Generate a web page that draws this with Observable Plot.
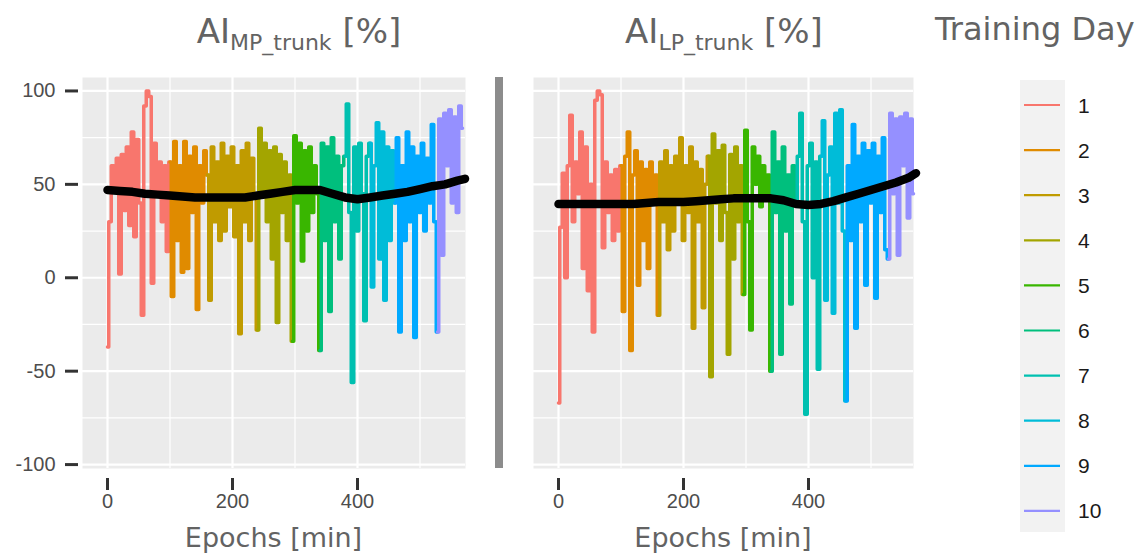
<!DOCTYPE html>
<html><head><meta charset="utf-8">
<script src="https://cdn.jsdelivr.net/npm/d3@7"></script>
<script src="https://cdn.jsdelivr.net/npm/@observablehq/plot@0.6"></script>
<style>
body{margin:0;background:#fff;}
#root{position:relative;width:1143px;height:553px;overflow:hidden;background:#fff;}
#root > svg, #root > div{position:absolute;}
</style></head><body><div id="root"></div>
<script>
// ---- data ----
const epochs = [0,4,8,12,16,20,24,28,32,36,40,44,48,52,56,60,64,68,72,76,80,84,88,92,96,
100,104,108,112,116,120,124,128,132,136,140,144,148,152,156,
160,164,168,172,176,180,184,188,192,196,200,204,208,212,216,220,224,228,232,236,
240,244,248,252,256,260,264,268,272,276,280,284,288,292,
296,300,304,308,312,316,320,324,328,332,336,
340,344,348,352,356,360,364,368,372,376,
380,384,388,392,396,400,404,408,412,416,
420,424,428,432,436,440,444,448,452,456,
460,464,468,472,476,480,484,488,492,496,500,504,508,512,516,520,524,
528,532,536,540,544,548,552,556,560,564,568];

const mpValues = [-37,30,60,48,64,2,66,36,70,28,78,22,74,40,-20,92,100,97,-3,72,45,62,30,60,14,
62,-10,73,20,60,3,73,5,65,35,70,-17,60,40,68,
55,-12,70,30,62,20,72,25,65,38,70,22,60,-30,68,30,72,20,64,45,
-28,80,45,72,30,68,10,70,-24,66,35,62,20,55,
-34,76,40,72,9,68,25,70,35,60,45,
-39,72,20,70,-18,75,30,65,10,60,
65,93,35,-56,70,25,72,45,-23,65,
72,-5,60,83,10,78,-12,70,20,68,
40,75,-29,60,20,78,30,70,-32,65,35,72,25,64,40,82,30,
-29,85,12,88,60,90,40,86,35,92,80];

const lpValues = [-67,27,56,0,60,87,30,62,45,78,5,70,-7,50,-29,95,100,98,16,62,35,55,20,58,25,
60,-18,65,78,-39,55,68,-4,62,20,58,5,62,40,55,
-20,62,30,68,15,60,25,65,40,75,20,60,35,70,-27,62,30,58,-16,50,
65,-53,77,40,68,20,71,35,-41,66,10,70,30,60,
-9,79,30,-28,70,50,65,38,60,45,55,
-50,78,35,62,-41,70,25,55,-14,60,
40,65,88,30,-73,60,72,0,62,-49,
65,84,-12,55,70,-19,88,40,90,25,
-66,60,20,82,-27,65,30,72,-4,68,40,72,-11,65,35,75,15,
10,88,45,85,12,86,60,88,32,85,45];

const smoothEpochs = [0,20,40,60,80,100,120,140,160,180,200,220,240,260,280,300,320,340,360,380,400,420,440,460,480,500,520,540,560,572];
const mpSmooth = [47,46.5,46,45,44.5,44,43.5,43,43,43,43,43,44,45,46,47,47,47,45,43,42,43,44,45,46,47.5,49,50,52,53];
const lpSmooth = [39.5,39.5,39.5,39.5,39.5,39.5,39.5,40,40.5,40.5,40.5,41,41.5,42,42.5,42.5,42.5,42.5,41.5,39.5,39,39.5,41,43,45,47,49,51,53.5,56];

const dayStarts = [0,100,160,240,296,338,380,420,460,528];
const dayLabels = ["1","2","3","4","5","6","7","8","9","10"];
const dayColors = ["#F8766D","#E08B00","#C09B00","#A3A500","#39B600","#00BF7D","#00C0B0","#00BCD8","#00A9FF","#9590FF"];

const xTicks = [0,200,400];
const xMinor = [100,300,500];
const yTicks = [-100,-50,0,50,100];
const yMinor = [-75,-25,25,75];

// ---- build ----
function dayOf(e){ let d=0; for(let i=0;i<dayStarts.length;i++) if(e>=dayStarts[i]) d=i; return d; }
function buildRows(values){
  const rows=[];
  for(let i=0;i<epochs.length;i++){
    const d=dayOf(epochs[i]);
    rows.push({epoch:epochs[i], value:values[i], day:dayLabels[d]});
    if(i+1<epochs.length && dayOf(epochs[i+1])!==d) rows.push({epoch:epochs[i+1], value:values[i+1], day:dayLabels[d]});
  }
  return rows;
}

function panel(values, smooth, opts){
  const rows = buildRows(values);
  const sm = smoothEpochs.map((e,i)=>({epoch:e, value:smooth[i]}));
  const yAxisMarks = opts.showY ? [
    Plot.axisY({ticks:yTicks, tickSize:13, dx:-4, stroke:"#333", strokeWidth:3, tickFormat:()=>"", label:null}),
    Plot.text(yTicks, {y:d=>d, text:d=>String(d), frameAnchor:"left", dx:-27, textAnchor:"end", lineAnchor:"middle",
      fontSize:20, fontFamily:"Liberation Sans", fill:"#4d4d4d"})
  ] : [];
  return Plot.plot({
    width: opts.width, height: 458,
    marginTop: 17, marginBottom: 50, marginLeft: opts.marginLeft, marginRight: 10,
    style: {background:"transparent", fontFamily:"Liberation Sans"},
    x: {domain: opts.xDomain},
    y: {domain: [-102.1, 107.2], axis: opts.showY ? undefined : null},
    color: {type:"ordinal", domain: dayLabels, range: dayColors},
    marks: [
      Plot.frame({fill:"#EBEBEB", stroke:null}),
      Plot.gridY({ticks:yMinor, stroke:"white", strokeOpacity:1, strokeWidth:1.2}),
      Plot.gridX({ticks:xMinor, stroke:"white", strokeOpacity:1, strokeWidth:1.2}),
      Plot.gridY({ticks:yTicks, stroke:"white", strokeOpacity:1, strokeWidth:2.2}),
      Plot.gridX({ticks:xTicks, stroke:"white", strokeOpacity:1, strokeWidth:2.2}),
      Plot.line(rows, {x:"epoch", y:"value", z:"day", stroke:"day", curve:"step", strokeWidth:3.5}),
      Plot.line(sm, {x:"epoch", y:"value", stroke:"black", strokeWidth:8.5, strokeLinejoin:"round"}),
      Plot.axisX({ticks:xTicks, tickSize:12, dy:10, stroke:"#333", strokeWidth:3, tickFormat:()=>"", label:null}),
      Plot.text(xTicks, {x:d=>d, text:d=>String(d), frameAnchor:"bottom", dy:33, lineAnchor:"middle",
        fontSize:20, fontFamily:"Liberation Sans", fill:"#4d4d4d"}),
      ...yAxisMarks
    ]
  });
}

const root = document.getElementById("root");

const left = panel(mpValues, mpSmooth, {width:475, marginLeft:82, xDomain:[-40,572.8], showY:true});
left.style.left = "0px"; left.style.top = "60px";
root.appendChild(left);

const right = panel(lpValues, lpSmooth, {width:423, marginLeft:33, xDomain:[-40,568], showY:false});
right.style.left = "500px"; right.style.top = "60px";
root.appendChild(right);

const bar = document.createElement("div");
Object.assign(bar.style, {left:"495px", top:"77px", width:"8px", height:"391px", background:"#8C8C8C"});
root.appendChild(bar);

// overlay: titles, axis titles, legend
const svg = d3.select(root).append("svg").attr("width",1143).attr("height",553)
  .style("left","0px").style("top","0px").style("pointer-events","none");

function title(x, sub){
  const t = svg.append("text").attr("x",x).attr("y",43).attr("text-anchor","middle")
    .attr("font-family","DejaVu Sans").attr("font-size",34).attr("fill","#636363");
  t.append("tspan").text("AI");
  t.append("tspan").attr("font-size",22).attr("dy",7).text(sub);
  t.append("tspan").attr("dy",-7).text(" [%]");
}
title(299, "MP_trunk");
title(724, "LP_trunk");

[[273.5,"Epochs [min]"],[723,"Epochs [min]"]].forEach(([x,s])=>{
  svg.append("text").attr("x",x).attr("y",547).attr("text-anchor","middle")
    .attr("font-family","DejaVu Sans").attr("font-size",27).attr("fill","#636363").text(s);
});

svg.append("text").attr("x",935).attr("y",40).attr("font-family","DejaVu Sans")
  .attr("font-size",32).attr("fill","#636363").text("Training Day");

svg.append("rect").attr("x",1020).attr("y",80).attr("width",45).attr("height",452).attr("fill","#F2F2F2");
dayLabels.forEach((lab,i)=>{
  const y = 105 + i*45.1;
  svg.append("line").attr("x1",1024).attr("x2",1060).attr("y1",y).attr("y2",y)
    .attr("stroke",dayColors[i]).attr("stroke-width",2.2);
  svg.append("text").attr("x",1078).attr("y",y+7.5).attr("font-family","Liberation Sans")
    .attr("font-size",21).attr("fill","#1a1a1a").text(lab);
});
</script></body></html>
